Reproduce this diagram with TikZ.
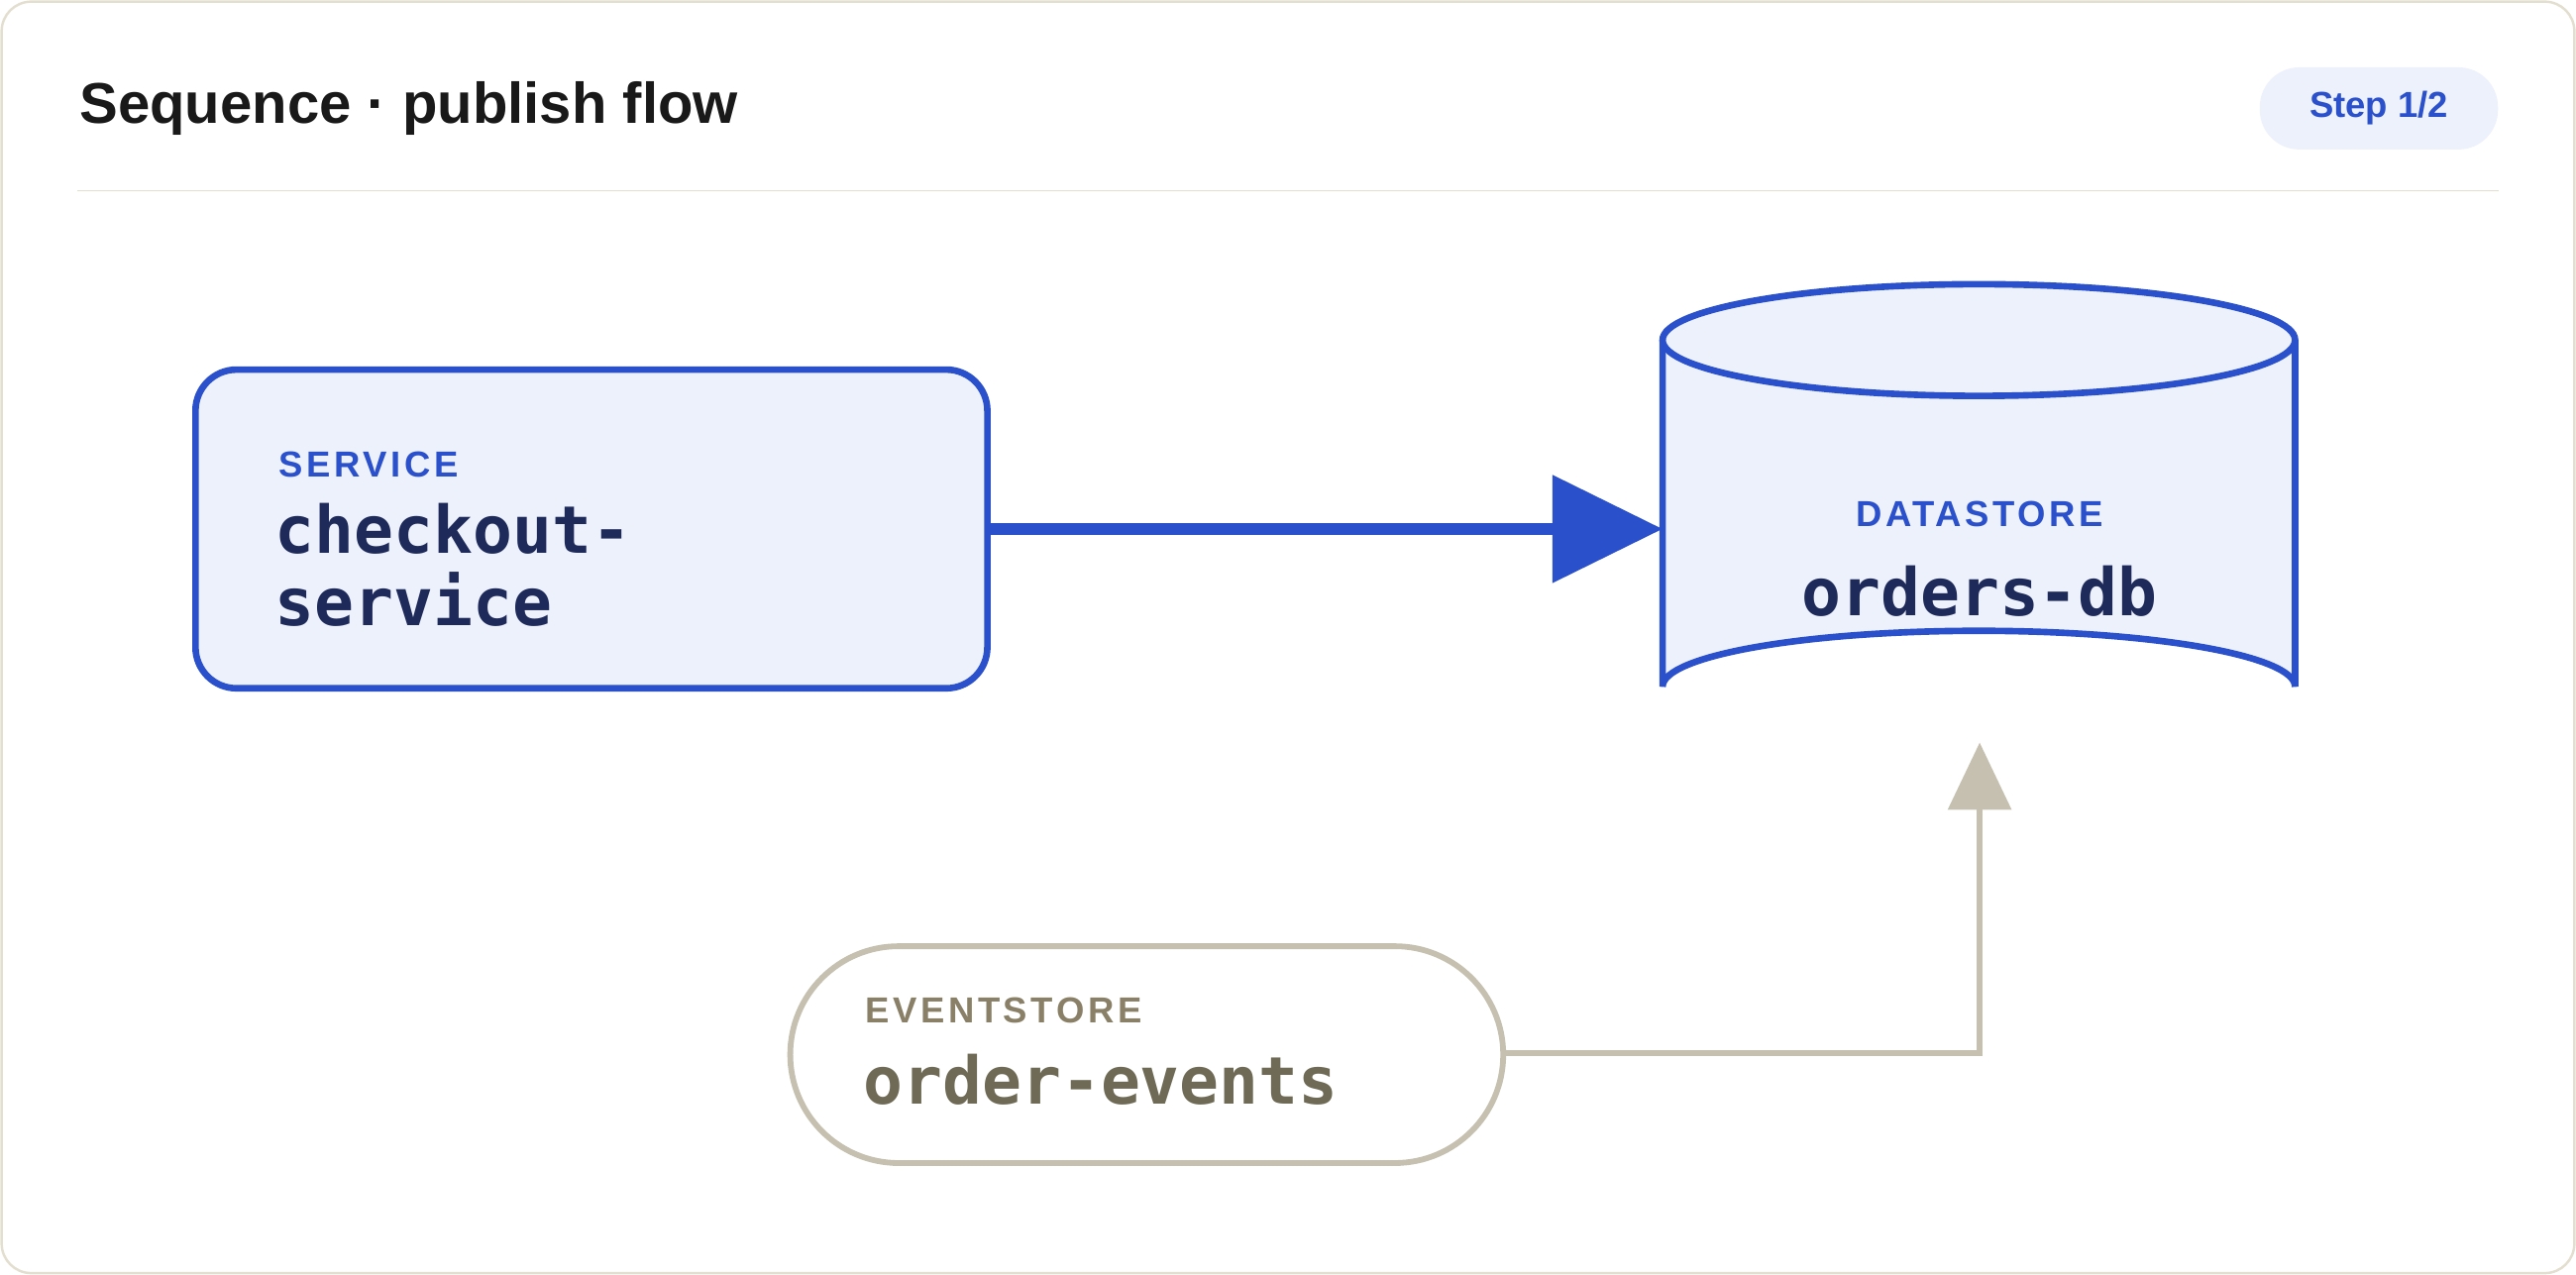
\documentclass[tikz,border=0pt]{standalone}
\usepackage{fontspec}
\setmainfont{Liberation Sans}
\newfontfamily\capsf[LetterSpace=10]{Liberation Sans}
\newfontfamily\monof{DejaVu Sans Mono}
\usetikzlibrary{arrows.meta}
\definecolor{blu}{HTML}{2B50CC}
\definecolor{bfill}{HTML}{EDF1FC}
\definecolor{navy}{HTML}{1E2A5A}
\definecolor{gry}{HTML}{C5C0B0}
\definecolor{gtxt}{HTML}{8A8068}
\definecolor{gdark}{HTML}{6E6A55}
\definecolor{frame}{HTML}{E3DFD0}
\begin{document}
\begin{tikzpicture}[x=1pt,y=-1pt,
  caplbl/.style={anchor=west,font=\capsf\bfseries\fontsize{22}{26}\selectfont},
  mono/.style={anchor=west,font=\monof\bfseries\fontsize{40}{48}\selectfont,align=left}]
\useasboundingbox (0,0) rectangle (1568,776);
\draw[frame,line width=1.5,rounded corners=18] (1,1) rectangle (1567,775);
\node[anchor=west,font=\bfseries\fontsize{35}{40}\selectfont,text=black!90] (title) at (45,66) {Sequence · publish flow};
\node[fill=bfill,rounded corners=24,minimum width=145,minimum height=50,text=blu,font=\bfseries\fontsize{22}{26}\selectfont] (step) at (1448,66) {Step 1/2};
\draw[frame,line width=1] (47,116) -- (1521,116);
% service
\draw[blu,fill=bfill,line width=4,rounded corners=25] (119,225) rectangle (601,419);
\node (svc) at (360,322) {};
\node[caplbl,text=blu] (svcl) at (166,283) {SERVICE};
\node[mono,text=navy,anchor=north west] (svct) at (164,303) {checkout-\\[-4pt]service};
% cylinder
\draw[blu,fill=bfill,line width=4] (1012,207) -- (1012,418) arc[start angle=180,end angle=360,x radius=192.5,y radius=34] -- (1397,207);
\draw[blu,fill=bfill,line width=4] (1204.5,207) ellipse[x radius=192.5,y radius=34];
\coordinate (dbw) at (1012,322);
\coordinate (dbb) at (1205,452);
\node[font=\capsf\bfseries\fontsize{22}{26}\selectfont,text=blu] (dbl) at (1205,313) {DATASTORE};
\node[font=\monof\bfseries\fontsize{40}{48}\selectfont,text=navy] (dbt) at (1205,360) {orders-db};
% eventstore
\draw[gry,fill=white,line width=3.5,rounded corners=66] (481,576) rectangle (915,708);
\coordinate (eve) at (915,641);
\node[caplbl,text=gtxt] (evl) at (523,615) {EVENTSTORE};
\node[mono,text=gdark] (evt) at (522,657) {order-events};
% connectors
\coordinate (svce) at (603,322);
\draw[blu,line width=7,-{Triangle[length=67,width=64]}] (svce) -- (dbw);
\draw[gry,line width=4,-{Triangle[length=41,width=38]}] (eve) -- (1205,641) -- (dbb);
\end{tikzpicture}
\end{document}
